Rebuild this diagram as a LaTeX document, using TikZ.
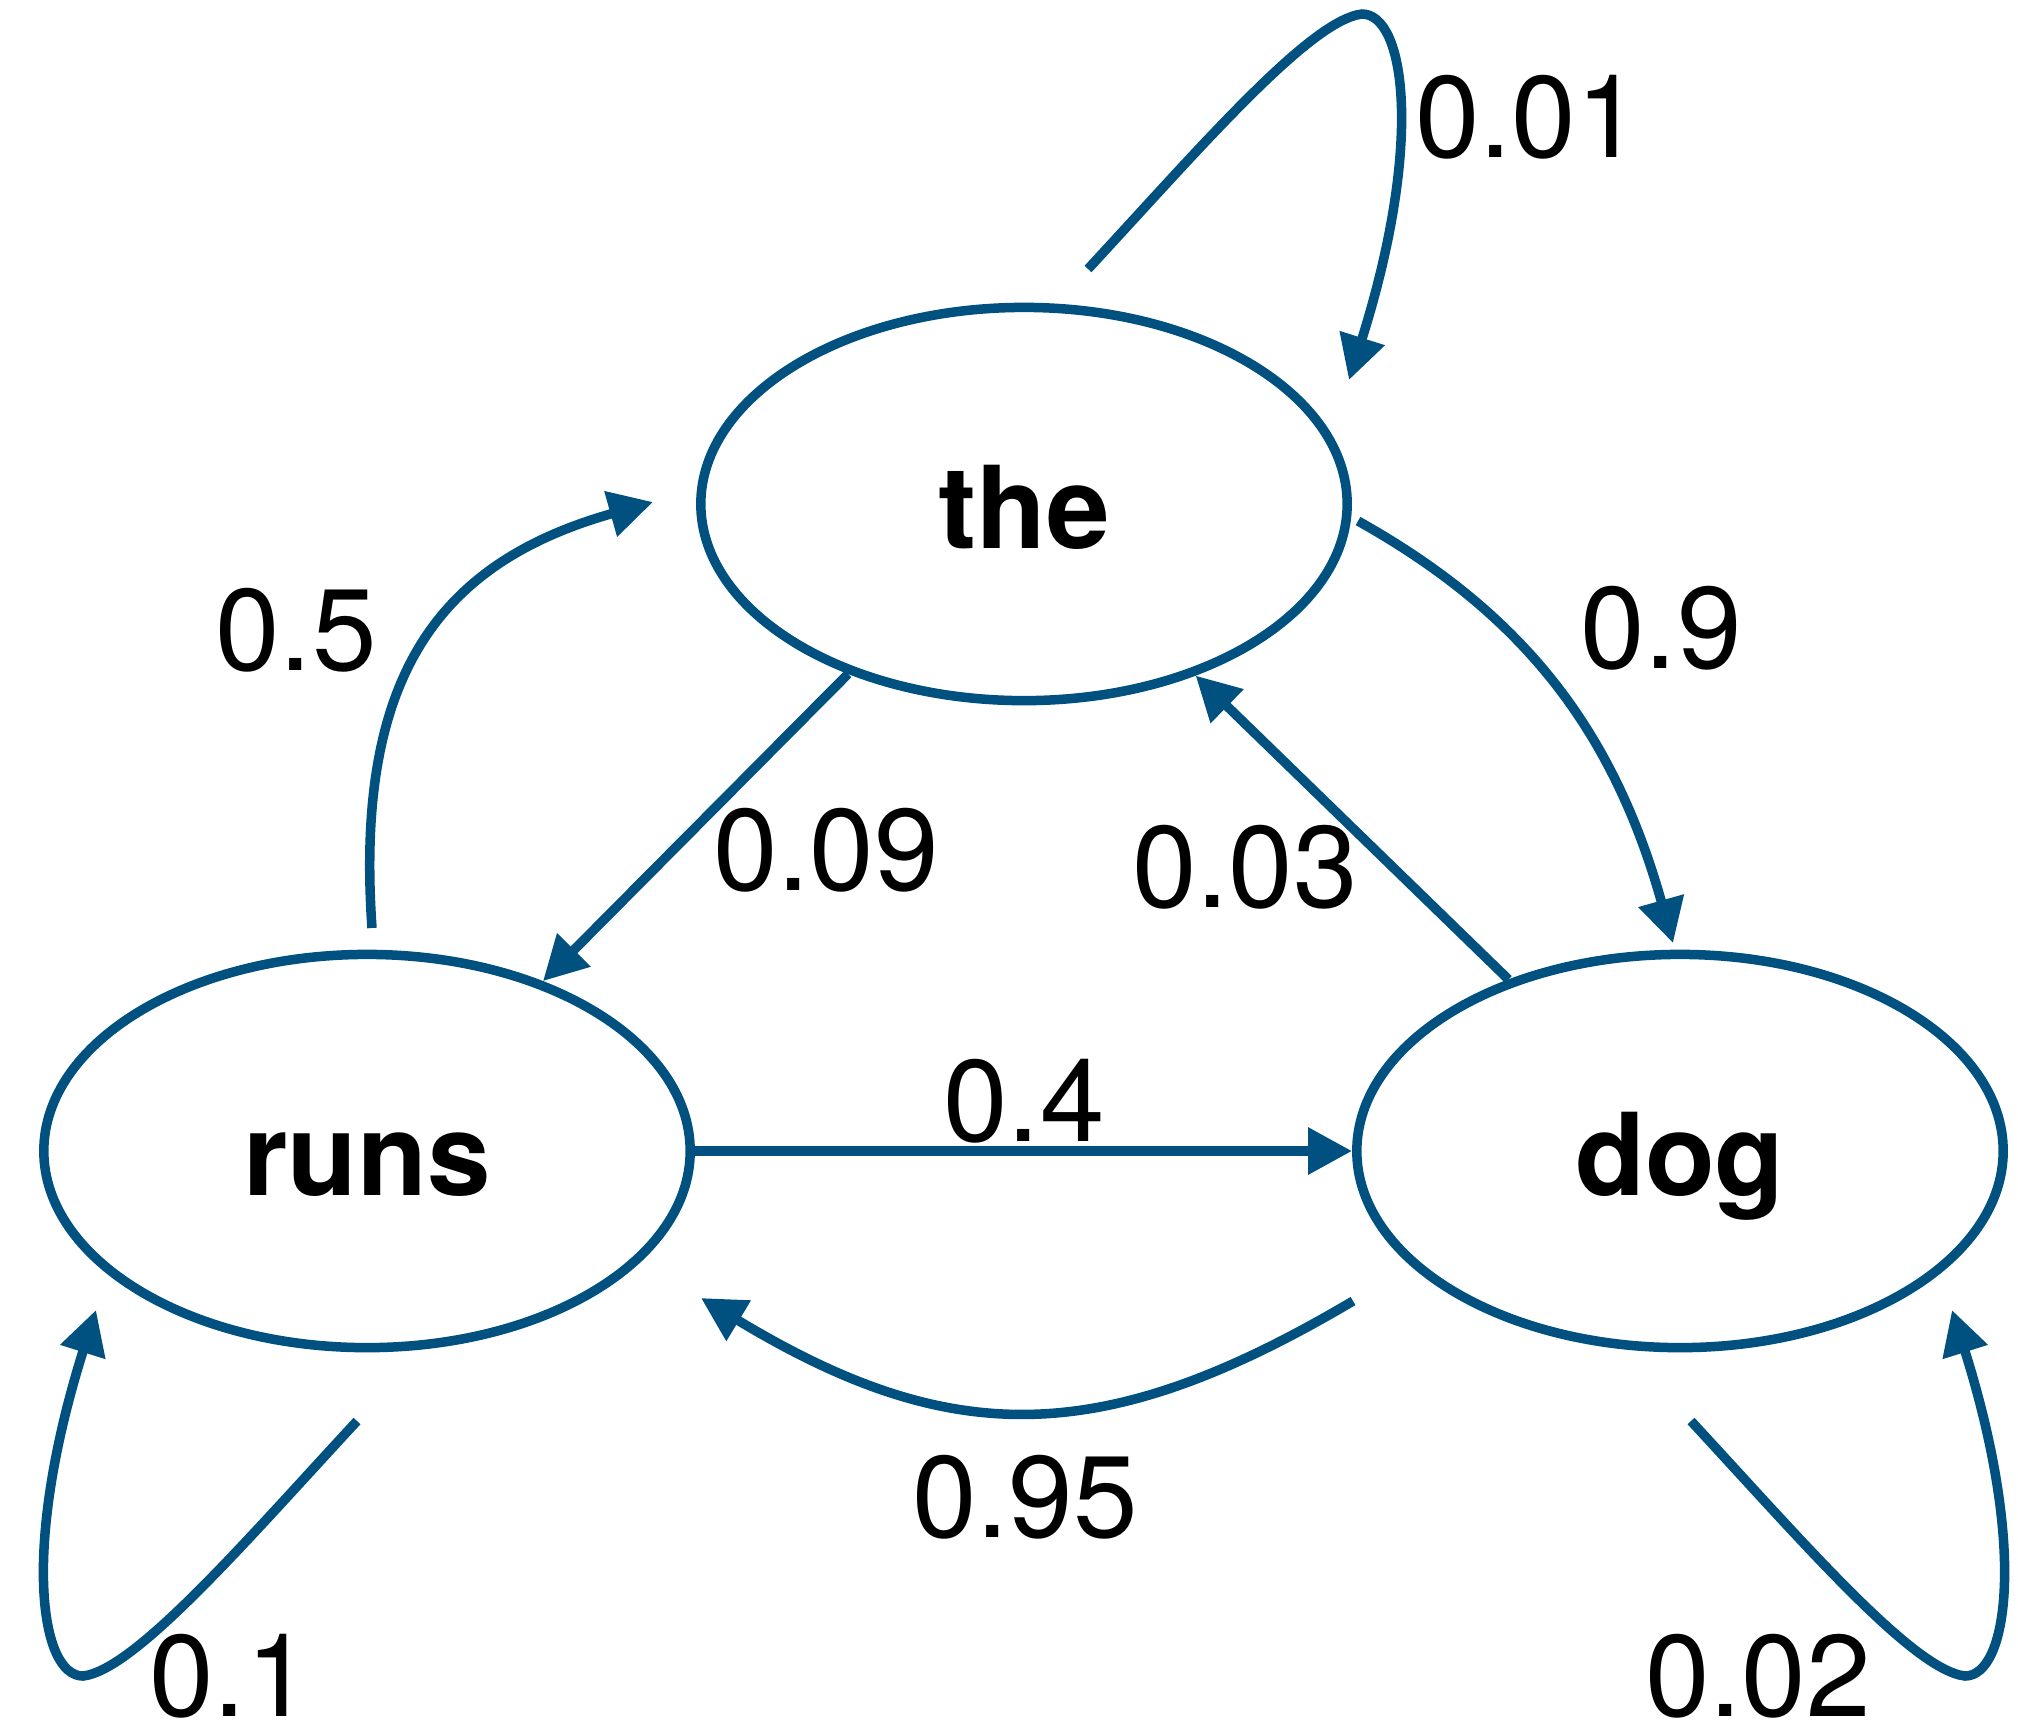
\documentclass[tikz,border=0pt]{standalone}
\usepackage{fontspec}
\setmainfont{TeX Gyre Heros}
\usetikzlibrary{arrows.meta,shapes.geometric}
\definecolor{edgeblue}{RGB}{0,80,128}
\begin{document}
\begin{tikzpicture}[x=0.01cm,y=-0.01cm,
  state/.style={ellipse, draw=edgeblue, line width=0.095cm,
    minimum width=6.46cm, minimum height=3.93cm, inner sep=0pt,
    text height=0.88cm, text depth=0pt,
    font=\fontsize{32.5}{40}\selectfont\bfseries},
  trans/.style={draw=edgeblue, line width=0.095cm,
    -{Triangle[length=0.44cm,width=0.45cm]}},
  prob/.style={anchor=base, inner sep=0pt, font=\fontsize{33}{40}\selectfont}]
\useasboundingbox (0,0) rectangle (2018,1729);

% states
\node[state] (the)  at (1024,504) {the};
\node[state] (runs) at (367,1151) {runs};
\node[state] (dog)  at (1680,1151) {dog};

% free ends of the curved transitions
\coordinate (theLoopOut) at (1088,269);
\coordinate (theLoopIn)  at (1349,380);
\coordinate (runsLoopOut) at (357,1421);
\coordinate (runsLoopIn)  at (96,1310);
\coordinate (dogLoopOut) at (1691,1421);
\coordinate (dogLoopIn)  at (1952,1310);
\coordinate (runsUp)   at (372,928);
\coordinate (theLeft)  at (653,502);
\coordinate (theRight) at (1358,521);
\coordinate (dogTop)   at (1673,943);
\coordinate (dogLow)   at (1353,1301);
\coordinate (runsLow)  at (701,1298);

% self loops
\draw[trans] (theLoopOut) .. controls (1200,148) and (1310,20) .. (1362,14)
  .. controls (1405,14) and (1424,142) .. (theLoopIn);
\draw[trans] (runsLoopOut) .. controls (245,1542) and (135,1670) .. (83,1676)
  .. controls (40,1676) and (21,1548) .. (runsLoopIn);
\draw[trans] (dogLoopOut) .. controls (1803,1542) and (1913,1670) .. (1965,1676)
  .. controls (2008,1676) and (2027,1548) .. (dogLoopIn);

% transitions between states
\draw[trans] (runsUp) .. controls (355,683) and (433,564) .. (theLeft);
\draw[trans] (theRight) .. controls (1526,615) and (1614,733) .. (dogTop);
\draw[trans] (dogLow) .. controls (1103,1449) and (951,1449) .. (runsLow);
\draw[trans] (the.224.8) -- (runs.44.5);
\draw[trans] (dog.135.7) -- (the.315.3);
\draw[trans] (runs.east) -- (dog.west);

% probabilities
\node[prob] (p01) at (1528,157) {0.01};
\node[prob] (p5)  at (296,670) {0.5};
\node[prob] (p9)  at (1661,668) {0.9};
\node[prob] (p09) at (826,890) {0.09};
\node[prob] (p03) at (1245,907) {0.03};
\node[prob] (p4)  at (1024,1141) {0.4};
\node[prob] (p95) at (1025,1537) {0.95};
\node[prob] (p1)  at (230,1716) {0.1};
\node[prob] (p02) at (1758,1716) {0.02};
\end{tikzpicture}
\end{document}
